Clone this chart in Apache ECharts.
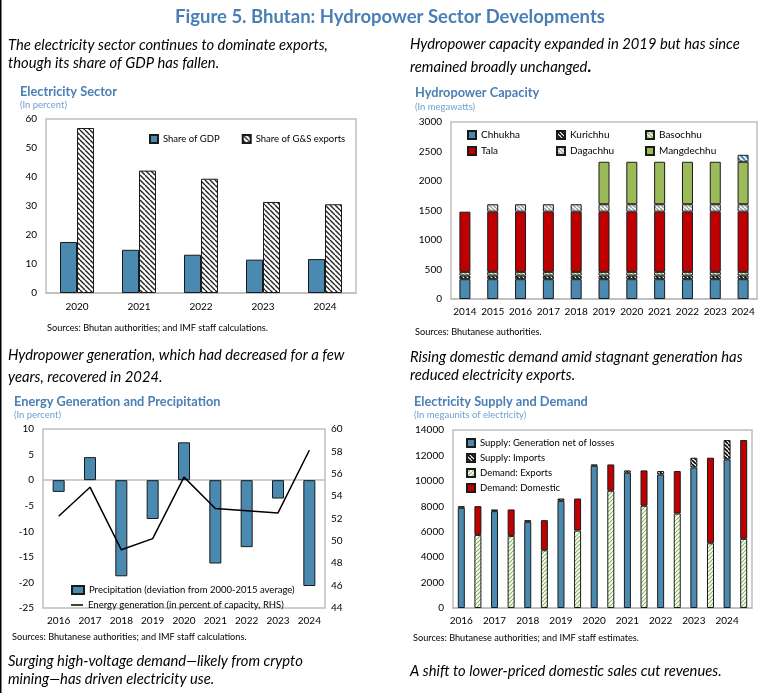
<!DOCTYPE html>
<html><head><meta charset="utf-8">
<script src="https://cdn.jsdelivr.net/npm/echarts@6/dist/echarts.min.js"></script>
<style>html,body{margin:0;padding:0;background:#fff}#c{width:777px;height:693px}</style>
</head><body><div id="c"></div><script>
// ---------- DATA ----------
const sectorYears = ['2020','2021','2022','2023','2024'];
const shareGDP = [17.6,14.9,13.2,11.5,11.7];
const shareExports = [56.9,42.2,39.4,31.4,30.6];

const capYears = ['2014','2015','2016','2017','2018','2019','2020','2021','2022','2023','2024'];
const chhukha    = [336,336,336,336,336,336,336,336,336,336,336];
const kurichhu   = [60,60,60,60,60,60,60,60,60,60,60];
const basochhu   = [64,64,64,64,64,64,64,64,64,64,64];
const tala       = [1020,1020,1020,1020,1020,1020,1020,1020,1020,1020,1020];
const dagachhu   = [null,126,126,126,126,126,126,126,126,126,126];
const mangdechhu = [null,null,null,null,null,720,720,720,720,720,720];
const nikachhu   = [null,null,null,null,null,null,null,null,null,null,118];

const genYears = ['2016','2017','2018','2019','2020','2021','2022','2023','2024'];
const precip    = [-2.3,4.5,-18.8,-7.6,7.4,-16.3,-13.1,-3.6,-20.7];
const energyGen = [52.2,54.8,49.2,50.2,55.7,52.9,52.7,52.5,58.1];

const sdYears = ['2016','2017','2018','2019','2020','2021','2022','2023','2024'];
const supplyGen      = [7880,7620,6780,8430,11190,10640,10500,11060,11690];
const supplyImports  = [130,130,130,180,100,180,270,760,1520];
const demandExports  = [5750,5670,4540,6090,9220,8040,7430,5090,5440];
const demandDomestic = [2260,2080,2370,2520,2070,2780,3340,6730,7770];

// ---------- HELPERS ----------
const FONT = 'Lato';
const BLUE = '#4a89b0', RED = '#c00000', GREEN = '#9bbb59', EDGE = '#1a1a1a';
const TITLE = '#4a7fb5', SUBT = '#6f9fd0';
function hatch(bg, fg, dir, s, lw) {
  const c = document.createElement('canvas'); c.width = s; c.height = s;
  const g = c.getContext('2d'); g.fillStyle = bg; g.fillRect(0,0,s,s);
  g.strokeStyle = fg; g.lineWidth = lw; g.beginPath();
  for (const o of [-s, 0, s]) {
    if (dir === '\\') { g.moveTo(o, 0); g.lineTo(o + s, s); }
    else { g.moveTo(o + s, 0); g.lineTo(o, s); }
  }
  g.stroke();
  return {image: c, repeat: 'repeat'};
}
const mctx = document.createElement('canvas').getContext('2d');
function fit(text, st, wt, target) {
  mctx.font = st + ' ' + wt + ' 100px ' + FONT;
  return 100 * target / mctx.measureText(text).width;
}
const texts = [];
function T(text, x, y, st, wt, size, color, align) {
  texts.push({type:'text', x:x, y:y, silent:true, style:{text:text, fill:color, align:align||'left', verticalAlign:'middle',
    font: st + ' ' + wt + ' ' + size.toFixed(2) + 'px ' + FONT}});
}
const itSize = fit('The electricity sector continues to dominate exports,', 'italic', 'normal', 320);
const mainSize = fit('Figure 5. Bhutan: Hydropower Sector Developments', 'normal', 'bold', 430);
const chSize = fit('Electricity Sector', 'normal', 'bold', 97);
const subSize = fit('(In percent)', 'normal', 'normal', 47);
const srcSize = fit('Sources: Bhutan authorities; and IMF staff calculations.', 'normal', 'normal', 221);

T('Figure 5. Bhutan: Hydropower Sector Developments', 390, 17, 'normal', 'bold', mainSize, TITLE, 'center');
T('The electricity sector continues to dominate exports,', 8, 45, 'italic', 'normal', itSize, '#000');
T('though its share of GDP has fallen.', 8, 63, 'italic', 'normal', itSize, '#000');
T('Hydropower capacity expanded in 2019 but has since', 410, 44, 'italic', 'normal', itSize, '#000');
T('remained broadly unchanged', 410, 67, 'italic', 'normal', itSize, '#000');
T('Hydropower generation, which had decreased for a few', 8, 355, 'italic', 'normal', itSize, '#000');
T('years, recovered in 2024.', 8, 377, 'italic', 'normal', itSize, '#000');
T('Rising domestic demand amid stagnant generation has', 410, 357, 'italic', 'normal', itSize, '#000');
T('reduced electricity exports.', 410, 375, 'italic', 'normal', itSize, '#000');
T('Surging high-voltage demand\u2014likely from crypto', 8, 661, 'italic', 'normal', itSize, '#000');
T('mining\u2014has driven electricity use.', 8, 679, 'italic', 'normal', itSize, '#000');
T('A shift to lower-priced domestic sales cut revenues.', 410, 671, 'italic', 'normal', itSize, '#000');

T('Electricity Sector', 20, 92, 'normal', 'bold', chSize, TITLE);
T('(In percent)', 20, 105, 'normal', 'normal', subSize, SUBT);
T('Hydropower Capacity', 415, 93, 'normal', 'bold', chSize, TITLE);
T('(In megawatts)', 415, 107, 'normal', 'normal', subSize, SUBT);
T('Energy Generation and Precipitation', 14, 402, 'normal', 'bold', chSize, TITLE);
T('(In percent)', 14, 415, 'normal', 'normal', subSize, SUBT);
T('Electricity Supply and Demand', 414, 402, 'normal', 'bold', chSize, TITLE);
T('(In megaunits of electricity)', 414, 415, 'normal', 'normal', subSize, SUBT);

T('Sources: Bhutan authorities; and IMF staff calculations.', 47, 328, 'normal', 'normal', srcSize, '#000');
T('Sources: Bhutanese authorities.', 415, 332, 'normal', 'normal', srcSize, '#000');
T('Sources: Bhutanese authorities; and IMF staff calculations.', 12, 637, 'normal', 'normal', srcSize, '#000');
T('Sources: Bhutanese authorities; and IMF staff estimates.', 413, 638, 'normal', 'normal', srcSize, '#000');

texts.push({type:'text', x: 410 + (function(){mctx.font='italic normal '+itSize+'px '+FONT; return mctx.measureText('remained broadly unchanged').width;})(), y: 67, silent:true,
  style:{text:'.', fill:'#000', verticalAlign:'middle', font:'normal bold ' + (itSize*1.1).toFixed(2) + 'px ' + FONT}});
texts.push({type:'line', silent:true, shape:{x1:0.75, y1:0, x2:0.75, y2:693}, style:{stroke:'#000', lineWidth:1.5}});

// ---------- CHART ----------
const axisLbl = {color:'#000', fontSize:10, fontFamily:FONT};
const frame = {show:true, borderColor:'#bfbfbf', borderWidth:1.5};
const catAxis = (gi, data, extra) => Object.assign({type:'category', gridIndex:gi, data:data,
  axisTick:{show:false}, axisLine:{show:true, lineStyle:{color:'#bfbfbf', width:1.5}},
  axisLabel:Object.assign({}, axisLbl, {margin:9, interval:0})}, extra||{});
const valAxis = (gi, min, max, iv, extra) => Object.assign({type:'value', gridIndex:gi, min:min, max:max, interval:iv,
  splitLine:{show:false}, axisLine:{show:false}, axisTick:{show:false},
  axisLabel:Object.assign({}, axisLbl, {margin:9, formatter: v => String(v)})}, extra||{});
const edge = {borderColor:EDGE, borderWidth:1};

const pairCats = sdYears.flatMap(y => [y, y + ' ']);
const onSupply = arr => arr.flatMap(v => [v, null]);
const onDemand = arr => arr.flatMap(v => [null, v]);

const legText = {color:'#000', fontSize:10, fontFamily:FONT};
const legSmall = {color:'#000', fontSize:9.5, fontFamily:FONT};

const option = {
  animation:false,
  textStyle:{fontFamily:FONT},
  grid:[
    Object.assign({left:46, top:119, width:310, height:174}, frame),
    Object.assign({left:451, top:122, width:306, height:177}, frame),
    Object.assign({left:43, top:429, width:282, height:179}, frame),
    Object.assign({left:453, top:430, width:299, height:178}, frame)
  ],
  xAxis:[
    catAxis(0, sectorYears),
    catAxis(1, capYears, {axisLabel:Object.assign({}, axisLbl, {margin:8, interval:0})}),
    catAxis(2, genYears, {axisLabel:Object.assign({}, axisLbl, {margin:8, interval:0})}),
    catAxis(3, pairCats, {axisLabel:Object.assign({}, axisLbl, {margin:8, interval:0, formatter:(v,i)=> i%2===0 ? v : ''})})
  ],
  yAxis:[
    valAxis(0, 0, 60, 10),
    valAxis(1, 0, 3000, 500),
    valAxis(2, -25, 10, 5),
    valAxis(2, 44, 60, 2, {position:'right', axisLabel:Object.assign({}, axisLbl, {margin:6})}),
    valAxis(3, 0, 14000, 2000)
  ],
  legend:[
    {left:144, top:129, itemWidth:8, itemHeight:8, itemGap:22, icon:'rect', textStyle:legSmall,
      data:['Share of GDP','Share of G&S exports']},
    {left:462, top:125, orient:'vertical', itemWidth:8, itemHeight:8, itemGap:6, icon:'rect', textStyle:legText, data:['Chhukha','Tala']},
    {left:551, top:125, orient:'vertical', itemWidth:8, itemHeight:8, itemGap:6, icon:'rect', textStyle:legText, data:['Kurichhu','Dagachhu']},
    {left:640, top:125, orient:'vertical', itemWidth:8, itemHeight:8, itemGap:6, icon:'rect', textStyle:legText, data:['Basochhu','Mangdechhu']},
    {left:66, top:580, itemWidth:12, itemHeight:8, textStyle:legSmall,
      data:[{name:'Precipitation (deviation from 2000-2015 average)', icon:'rect'}]},
    {left:66, top:595, itemWidth:12, itemHeight:1.5, textStyle:legSmall,
      data:[{name:'Energy generation (in percent of capacity, RHS)', icon:'rect'}]},
    {left:461, top:433, orient:'vertical', itemWidth:8, itemHeight:8, itemGap:5, icon:'rect', textStyle:legSmall,
      data:['Supply: Generation net of losses','Supply: Imports','Demand: Exports','Demand: Domestic']}
  ],
  series:[
    {name:'Share of GDP', type:'bar', xAxisIndex:0, yAxisIndex:0, data:shareGDP, barWidth:17, barGap:'0%', itemStyle:Object.assign({color:BLUE}, edge)},
    {name:'Share of G&S exports', type:'bar', xAxisIndex:0, yAxisIndex:0, data:shareExports, barWidth:17, barGap:'0%', itemStyle:Object.assign({color:hatch('#fff','#222','\\',5,1.4)}, edge)},

    {name:'Chhukha', type:'bar', stack:'cap', xAxisIndex:1, yAxisIndex:1, data:chhukha, barWidth:11, itemStyle:Object.assign({color:BLUE}, edge)},
    {name:'Kurichhu', type:'bar', stack:'cap', xAxisIndex:1, yAxisIndex:1, data:kurichhu, barWidth:11, itemStyle:Object.assign({color:hatch('#fff','#000','\\',4,1.6)}, edge)},
    {name:'Basochhu', type:'bar', stack:'cap', xAxisIndex:1, yAxisIndex:1, data:basochhu, barWidth:11, itemStyle:Object.assign({color:hatch('#fff','#8fb46a','\\',4,1.6)}, edge)},
    {name:'Tala', type:'bar', stack:'cap', xAxisIndex:1, yAxisIndex:1, data:tala, barWidth:11, itemStyle:Object.assign({color:RED}, edge)},
    {name:'Dagachhu', type:'bar', stack:'cap', xAxisIndex:1, yAxisIndex:1, data:dagachhu, barWidth:11, itemStyle:Object.assign({color:hatch('#fff','#a6a6a6','\\',4,1.6)}, edge)},
    {name:'Mangdechhu', type:'bar', stack:'cap', xAxisIndex:1, yAxisIndex:1, data:mangdechhu, barWidth:11, itemStyle:Object.assign({color:GREEN}, edge)},
    {name:'Nikachhu', type:'bar', stack:'cap', xAxisIndex:1, yAxisIndex:1, data:nikachhu, barWidth:11, itemStyle:Object.assign({color:hatch('#fff',BLUE,'\\',5,2)}, edge)},

    {name:'Precipitation (deviation from 2000-2015 average)', type:'bar', xAxisIndex:2, yAxisIndex:2, data:precip, barWidth:12, itemStyle:Object.assign({color:BLUE}, edge)},
    {name:'Energy generation (in percent of capacity, RHS)', type:'line', xAxisIndex:2, yAxisIndex:3, data:energyGen, symbol:'none', showSymbol:false,
      lineStyle:{color:'#000', width:1.5}, itemStyle:{color:'#000'}},

    {name:'Supply: Generation net of losses', type:'bar', stack:'sd', xAxisIndex:3, yAxisIndex:4, data:onSupply(supplyGen), barWidth:7, itemStyle:Object.assign({color:BLUE}, edge)},
    {name:'Supply: Imports', type:'bar', stack:'sd', xAxisIndex:3, yAxisIndex:4, data:onSupply(supplyImports), barWidth:7, itemStyle:Object.assign({color:hatch('#fff','#000','\\',4,1.6)}, edge)},
    {name:'Demand: Exports', type:'bar', stack:'sd', xAxisIndex:3, yAxisIndex:4, data:onDemand(demandExports), barWidth:7, itemStyle:Object.assign({color:hatch('#fff','#86b85a','/',4,1.1)}, edge)},
    {name:'Demand: Domestic', type:'bar', stack:'sd', xAxisIndex:3, yAxisIndex:4, data:onDemand(demandDomestic), barWidth:7, itemStyle:Object.assign({color:RED}, edge)}
  ],
  graphic: texts
};
const chart = echarts.init(document.getElementById('c'));
chart.setOption(option);
</script></body></html>
